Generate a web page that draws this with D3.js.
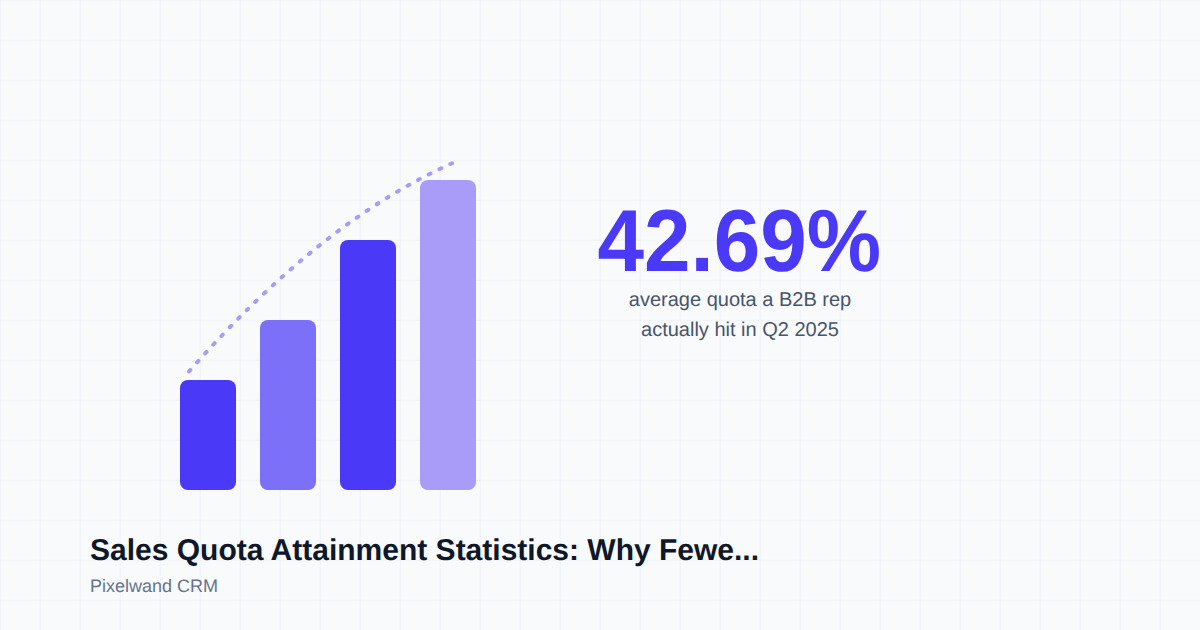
<!DOCTYPE html>
<html>
<head>
<meta charset="utf-8">
<script src="https://cdn.jsdelivr.net/npm/d3@7"></script>
<style>
html, body { margin: 0; padding: 0; background: #f9fafc; }
svg { display: block; }
text { font-family: "Liberation Sans", Arial, sans-serif; text-rendering: geometricPrecision; }
#labels { opacity: 0.999; }
</style>
</head>
<body>
<svg id="viz" width="1200" height="630"></svg>
<script>
// data
var categories = ["A", "B", "C", "D"];
var barValues = [110, 170, 250, 310];
var barColors = ["#4b39f8", "#7d70f8", "#4b39f8", "#a99cf8"];
var trendX = [189, 322, 456];
var trendY = [118.5, 270, 328.5];
var statText = "42.69%";
var subLines = ["average quota a B2B rep", "actually hit in Q2 2025"];
var titleText = "Sales Quota Attainment Statistics: Why Fewe...";
var sourceText = "Pixelwand CRM";

var width = 1200, height = 630;
var svg = d3.select("#viz");

// background grid
var gridX = d3.scaleLinear().domain([0, 30]).range([0, width]);
var gridY = d3.scaleLinear().domain([0, 15.75]).range([0, height]);

svg.append("g").selectAll("line")
    .data(d3.range(0, 31))
    .enter()
    .append("line")
    .attr("x1", function (d) { return gridX(d) + 0.25; })
    .attr("x2", function (d) { return gridX(d) + 0.25; })
    .attr("y1", 0)
    .attr("y2", height)
    .style("stroke", "#e4e9f0")
    .style("stroke-width", 0.5);

svg.append("g").selectAll("line")
    .data(d3.range(0, 16))
    .enter()
    .append("line")
    .attr("y1", function (d) { return gridY(d) + 0.25; })
    .attr("y2", function (d) { return gridY(d) + 0.25; })
    .attr("x1", 0)
    .attr("x2", width)
    .style("stroke", "#e4e9f0")
    .style("stroke-width", 0.5);

// bars
var x = d3.scaleBand()
    .domain(categories)
    .range([168, 488])
    .paddingInner(0.3)
    .paddingOuter(0.15);

var y = d3.scaleLinear().domain([0, 310]).range([490, 180]);
var px = d3.scaleLinear().domain([0, width]).range([0, width]);

svg.append("g").selectAll("rect")
    .data(barValues)
    .enter()
    .append("rect")
    .attr("x", function (d, i) { return x(categories[i]); })
    .attr("y", function (d) { return y(d); })
    .attr("width", x.bandwidth())
    .attr("height", function (d) { return y(0) - y(d); })
    .attr("rx", 8)
    .style("fill", function (d, i) { return barColors[i]; });

// dotted trend curve
var p = d3.path();
p.moveTo(px(trendX[0]), y(trendY[0]));
p.quadraticCurveTo(px(trendX[1]), y(trendY[1]), px(trendX[2]), y(trendY[2]));

svg.append("path")
    .attr("d", p.toString())
    .style("fill", "none")
    .style("stroke", "#a99cf8")
    .style("stroke-width", 4)
    .style("stroke-linecap", "round")
    .style("stroke-dasharray", "2 10");

var labels = svg.append("g").attr("id", "labels");

// big number, squeezed to its width
labels.append("text")
    .attr("x", 597.5)
    .attr("y", 271)
    .attr("textLength", 283.5)
    .attr("lengthAdjust", "spacingAndGlyphs")
    .style("font-size", "88px")
    .style("font-weight", "700")
    .style("fill", "#4b39f8")
    .text(statText);

labels.append("g").selectAll("text")
    .data(subLines)
    .enter()
    .append("text")
    .attr("x", 740)
    .attr("y", function (d, i) { return 306 + i * 30; })
    .style("text-anchor", "middle")
    .style("font-size", "20px")
    .style("fill", "#475569")
    .text(function (d) { return d; });

// footer
labels.append("text")
    .attr("x", 90)
    .attr("y", 560)
    .style("font-size", "30px")
    .style("font-weight", "700")
    .style("fill", "#0f172a")
    .text(titleText);

labels.append("text")
    .attr("x", 90)
    .attr("y", 592)
    .style("font-size", "18px")
    .style("fill", "#64748b")
    .text(sourceText);
</script>
</body>
</html>
